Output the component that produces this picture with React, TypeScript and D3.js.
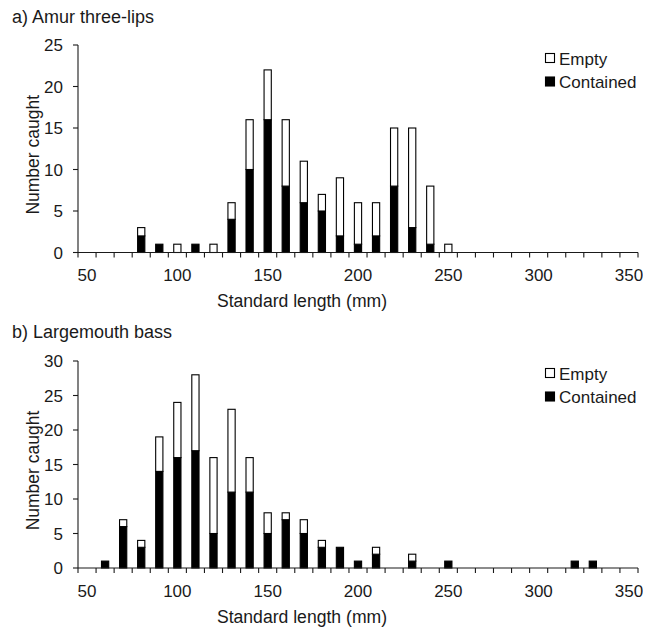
import * as d3 from "d3";
import { useEffect, useRef } from "react";

// length classes on the category axis (mm)
const lengths = [
  50, 60, 70, 80, 90, 100, 110, 120, 130, 140, 150, 160, 170, 180, 190, 200,
  210, 220, 230, 240, 250, 260, 270, 280, 290, 300, 310, 320, 330, 340, 350,
];
const lengthLabels = [50, 100, 150, 200, 250, 300, 350];
const seriesKeys = ["Contained", "Empty"];

// a) Amur three-lips
const amurBins = [80, 90, 100, 110, 120, 130, 140, 150, 160, 170, 180, 190, 200, 210, 220, 230, 240, 250];
const amurContained = [2, 1, 0, 1, 0, 4, 10, 16, 8, 6, 5, 2, 1, 2, 8, 3, 1, 0];
const amurEmpty = [1, 0, 1, 0, 1, 2, 6, 6, 8, 5, 2, 7, 5, 4, 7, 12, 7, 1];
const amurTicks = [0, 5, 10, 15, 20, 25];

// b) Largemouth bass
const bassBins = [60, 70, 80, 90, 100, 110, 120, 130, 140, 150, 160, 170, 180, 190, 200, 210, 230, 250, 320, 330];
const bassContained = [1, 6, 3, 14, 16, 17, 5, 11, 11, 5, 7, 5, 3, 3, 1, 2, 1, 1, 1, 1];
const bassEmpty = [0, 1, 1, 5, 8, 11, 11, 12, 5, 3, 1, 2, 1, 0, 0, 1, 1, 0, 0, 0];
const bassTicks = [0, 5, 10, 15, 20, 25, 30];

const FONT = "'Liberation Sans', Arial, sans-serif";
const INK = "#1a1a1a";

type Panel = {
  title: string;
  titleY: number;
  top: number;
  bottom: number;
  ticks: number[];
  bins: number[];
  contained: number[];
  empty: number[];
  legendY: number;
};

const panels: Panel[] = [
  { title: "a) Amur three-lips", titleY: 23, top: 45, bottom: 252.5, ticks: amurTicks,
    bins: amurBins, contained: amurContained, empty: amurEmpty, legendY: 53 },
  { title: "b) Largemouth bass", titleY: 338, top: 361, bottom: 568, ticks: bassTicks,
    bins: bassBins, contained: bassContained, empty: bassEmpty, legendY: 368 },
];

function drawPanel(g: any, p: Panel) {
  const left = 78, right = 638;
  const x = d3.scaleBand<string>()
    .domain(lengths.map(String))
    .range([left, right])
    .paddingInner(0.6)
    .paddingOuter(0.3);
  const y = d3.scaleLinear()
    .domain([0, p.ticks[p.ticks.length - 1]])
    .range([p.bottom, p.top]);

  const rows = p.bins.map((b, i) => ({ len: String(b), Contained: p.contained[i], Empty: p.empty[i] }));
  const stacked = d3.stack<any>().keys(seriesKeys)(rows);
  const fills: Record<string, string> = { Contained: "#000", Empty: "#fff" };

  // title
  g.append("text").attr("x", 12).attr("y", p.titleY).attr("font-size", 18).text(p.title);

  // bars
  stacked.forEach((s: any) => {
    g.append("g")
      .selectAll("rect")
      .data(s.filter((d: any) => d[1] > d[0]))
      .enter()
      .append("rect")
      .attr("x", (d: any) => x(d.data.len))
      .attr("width", x.bandwidth())
      .attr("y", (d: any) => y(d[1]))
      .attr("height", (d: any) => y(d[0]) - y(d[1]))
      .attr("fill", fills[s.key])
      .attr("stroke", "#000")
      .attr("stroke-width", 1.1);
  });

  // y axis
  g.append("line").attr("x1", left).attr("x2", left).attr("y1", p.top).attr("y2", p.bottom)
    .attr("stroke", INK).attr("stroke-width", 1.1);
  const yt = g.append("g").selectAll("g").data(p.ticks).enter().append("g");
  yt.append("line").attr("x1", left - 5).attr("x2", left)
    .attr("y1", (d: number) => y(d)).attr("y2", (d: number) => y(d))
    .attr("stroke", INK).attr("stroke-width", 1.1);
  yt.append("text").attr("x", 63).attr("y", (d: number) => y(d) + 6)
    .attr("text-anchor", "end").text((d: number) => d);

  // x axis, ticks between categories
  g.append("line").attr("x1", left).attr("x2", right).attr("y1", p.bottom).attr("y2", p.bottom)
    .attr("stroke", INK).attr("stroke-width", 1.1);
  const step = x.step();
  g.append("g").selectAll("line").data(d3.range(lengths.length + 1)).enter().append("line")
    .attr("x1", (i: number) => left + i * step).attr("x2", (i: number) => left + i * step)
    .attr("y1", p.bottom).attr("y2", p.bottom + 5)
    .attr("stroke", INK).attr("stroke-width", 1.1);
  g.append("g").selectAll("text").data(lengthLabels).enter().append("text")
    .attr("x", (d: number) => (x(String(d)) as number) + x.bandwidth() / 2)
    .attr("y", p.bottom + 28.5)
    .attr("text-anchor", "middle")
    .text((d: number) => d);

  // axis titles
  g.append("text").attr("x", 302).attr("y", p.bottom + 54.5).attr("text-anchor", "middle")
    .attr("font-size", 17.6).text("Standard length (mm)");
  g.append("text")
    .attr("transform", `translate(39,${(p.top + p.bottom) / 2 + 6}) rotate(-90)`)
    .attr("text-anchor", "middle")
    .attr("font-size", 17.5)
    .text("Number caught");

  // legend
  const legend = g.append("g").attr("transform", `translate(545,${p.legendY})`);
  ["Empty", "Contained"].forEach((k, i) => {
    legend.append("rect").attr("x", 0.5).attr("y", i * 23.5 + 0.5).attr("width", 9).attr("height", 9)
      .attr("fill", fills[k]).attr("stroke", "#000").attr("stroke-width", 1.1);
    legend.append("text").attr("x", 14).attr("y", i * 23.5 + 11.5).text(k);
  });
}

export default function App() {
  const svgRef = useRef<SVGSVGElement>(null);

  useEffect(() => {
    const svg = d3.select(svgRef.current);
    svg.selectAll("*").remove();
    svg.append("clipPath").attr("id", "cut").append("rect")
      .attr("x", 0).attr("y", 0).attr("width", 643).attr("height", 628);
    const root = svg.append("g").attr("clip-path", "url(#cut)")
      .attr("font-family", FONT).attr("font-size", 17).attr("fill", INK);
    panels.forEach((p) => drawPanel(root.append("g"), p));
  }, []);

  return (
    <svg
      ref={svgRef}
      width={659}
      height={628}
      style={{ position: "absolute", left: 0, top: 0, background: "#fff" }}
    />
  );
}
